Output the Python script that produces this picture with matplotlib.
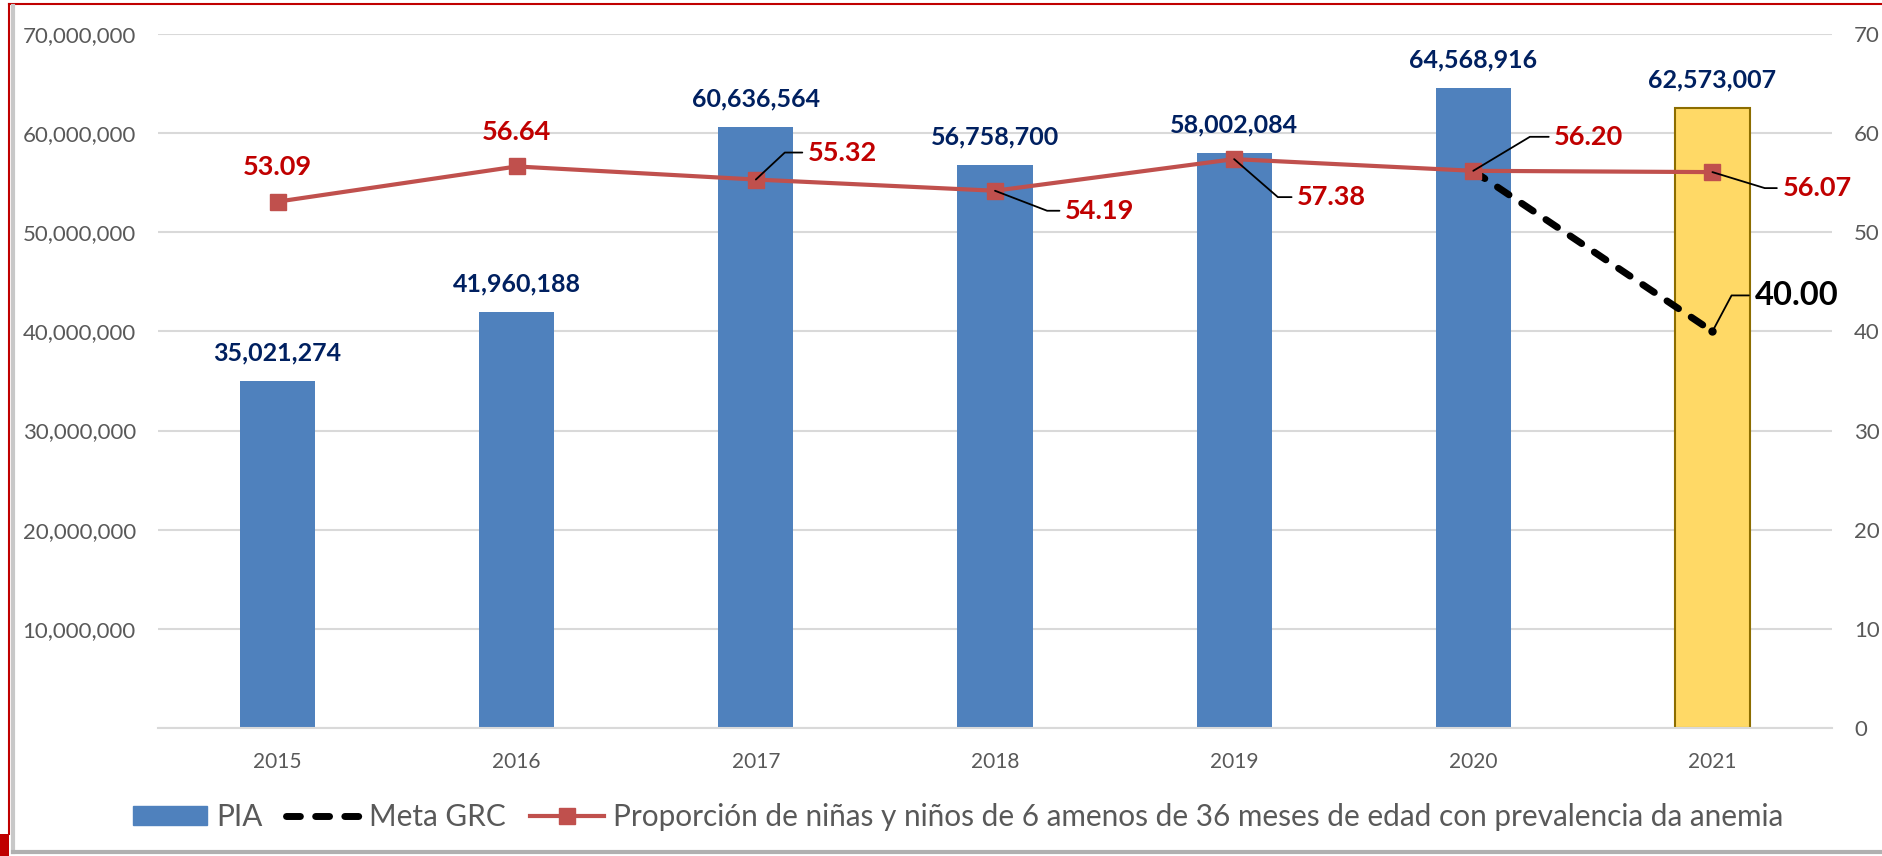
import numpy as np
import matplotlib
matplotlib.use("Agg")
import matplotlib.pyplot as plt
from matplotlib.lines import Line2D
from matplotlib.patches import Patch, Rectangle
from matplotlib.ticker import FuncFormatter


# ======================
# Data
# ======================

years = ["2015", "2016", "2017", "2018", "2019", "2020", "2021"]
pia = [35021274, 41960188, 60636564, 56758700, 58002084, 64568916, 62573007]
anemia = [53.09, 56.64, 55.32, 54.19, 57.38, 56.20, 56.07]
meta_years = ["2020", "2021"]
meta_values = [56.20, 40.00]

pia_ticks = list(range(0, 70000001, 10000000))
pct_ticks = list(range(0, 71, 10))

legend_labels = [
    "PIA",
    "Meta GRC",
    "Proporción de niñas y niños de 6 amenos de 36 meses de edad con prevalencia da anemia",
]


# ======================
# Style
# ======================

plt.rcParams["font.family"] = ["Lato", "DejaVu Sans"]

BLUE = "#4F81BD"
YELLOW = "#FFD966"
YELLOW_EDGE = "#8C6D00"
RED_LINE = "#C0504D"
RED_TEXT = "#C00000"
NAVY = "#002060"
GRAY_TEXT = "#595959"
GRID = "#D9D9D9"

fig = plt.figure(figsize=(18.82, 8.56), dpi=100)
ax = fig.add_axes([158 / 1882, 1 - 728 / 856, (1832 - 158) / 1882, (728 - 34) / 856])
ax2 = ax.twinx()

x = np.arange(len(years))


# ======================
# Bars (PIA)
# ======================

bar_colors = [BLUE] * (len(years) - 1) + [YELLOW]
edge_colors = [BLUE] * (len(years) - 1) + [YELLOW_EDGE]
line_w = [0] * (len(years) - 1) + [1.5]
ax.bar(x, pia, width=0.314, color=bar_colors, edgecolor=edge_colors,
       linewidth=line_w, zorder=2)

for xi, v in zip(x, pia):
    ax.annotate(f"{v:,}", xy=(xi, v), xytext=(0, 28), textcoords="offset pixels",
                ha="center", va="center", fontsize=18, fontweight="bold",
                color=NAVY, zorder=5)

ax.set_xlim(-0.5, len(years) - 0.5)
ax.set_ylim(0, 70000000)
ax.set_yticks(pia_ticks)
ax.yaxis.set_major_formatter(FuncFormatter(lambda v, p: "" if v == 0 else f"{int(v):,}"))
ax.set_xticks(x)
ax.set_xticklabels(years)
ax.tick_params(axis="y", length=0, pad=16, labelsize=16, labelcolor=GRAY_TEXT)
ax.tick_params(axis="x", length=0, pad=17, labelsize=15, labelcolor=GRAY_TEXT)
ax.grid(axis="y", color=GRID, linewidth=1.5, zorder=0)
ax.set_axisbelow(True)
for side in ["top", "left", "right"]:
    ax.spines[side].set_visible(False)
ax.spines["bottom"].set_color(GRID)
ax.spines["bottom"].set_linewidth(1.5)


# ======================
# Lines (secondary axis)
# ======================

meta_x = [years.index(y) for y in meta_years]
ax2.plot(meta_x, meta_values, color="black", linewidth=5, dashes=(2.0, 2.2),
         dash_capstyle="round", marker="o", markersize=5, zorder=3)
ax2.plot(x, anemia, color=RED_LINE, linewidth=3, marker="s", markersize=12,
         markerfacecolor=RED_LINE, markeredgecolor=RED_LINE, zorder=4)

ax2.set_ylim(0, 70)
ax2.set_yticks(pct_ticks)
ax2.tick_params(axis="y", length=0, pad=16, labelsize=16, labelcolor=GRAY_TEXT)
for side in ["top", "left", "right", "bottom"]:
    ax2.spines[side].set_visible(False)

# labels: (text offset dx, dy in px, leader angle or None)
label_pos = [
    (0, 35, None),
    (0, 34, None),
    (52, 27, 43),
    (70, -20, -21),
    (63, -38, -41),
    (81, 34, 31),
    (70, -16, -17),
]

for xi, v, (dx, dy, ang) in zip(x, anemia, label_pos):
    if ang is None:
        ax2.annotate(f"{v:.2f}", xy=(xi, v), xytext=(dx, dy), textcoords="offset pixels",
                     ha="center", va="center", fontsize=19.5, fontweight="bold",
                     color=RED_TEXT, zorder=6)
    else:
        ax2.annotate(f"{v:.2f}", xy=(xi, v), xytext=(dx, dy), textcoords="offset pixels",
                     ha="left", va="center", fontsize=19.5, fontweight="bold",
                     color=RED_TEXT, zorder=6,
                     arrowprops=dict(arrowstyle="-", color="black", lw=1.3,
                                     shrinkA=2, shrinkB=0, relpos=(0, 0.5),
                                     connectionstyle=f"angle,angleA=0,angleB={ang},rad=0"))

ax2.annotate(f"{meta_values[-1]:.2f}", xy=(meta_x[-1], meta_values[-1]), xytext=(42, 36),
             textcoords="offset pixels", ha="left", va="center", fontsize=23.5,
             fontweight="bold", color="black", zorder=6,
             arrowprops=dict(arrowstyle="-", color="black", lw=1.3,
                             shrinkA=2, shrinkB=0, relpos=(0, 0.5),
                             connectionstyle="angle,angleA=0,angleB=62,rad=0"))


# ======================
# Legend
# ======================

handles = [
    Patch(facecolor=BLUE, edgecolor=BLUE),
    Line2D([0], [0], color="black", linewidth=5, dashes=(2.0, 2.2), dash_capstyle="round"),
    Line2D([0], [0], color=RED_LINE, linewidth=3, marker="s", markersize=12),
]
fig.legend(handles, legend_labels, loc="center", bbox_to_anchor=(958 / 1882, 1 - 817 / 856),
           ncol=3, frameon=False, fontsize=21.4, labelcolor=GRAY_TEXT,
           handlelength=2.5, handleheight=0.6, handletextpad=0.3, columnspacing=0.8)


# ======================
# Frame decoration
# ======================

fig.add_artist(Line2D([9 / 1882, 1], [1 - 4 / 856, 1 - 4 / 856], color="#C00000", lw=1.5))
fig.add_artist(Line2D([9 / 1882, 9 / 1882], [1 - 4 / 856, 1 - 834 / 856], color="#C00000", lw=1.5))
fig.add_artist(Line2D([13 / 1882, 13 / 1882], [1 - 6 / 856, 1 - 852 / 856], color="#C8C8C8", lw=3))
fig.add_artist(Line2D([13 / 1882, 1], [1 - 852 / 856, 1 - 852 / 856], color="#B0B0B0", lw=3))
fig.add_artist(Rectangle((0, 0), 9 / 1882, 22 / 856, color="#C00000", lw=0))

fig.savefig("out.png", dpi=100)
